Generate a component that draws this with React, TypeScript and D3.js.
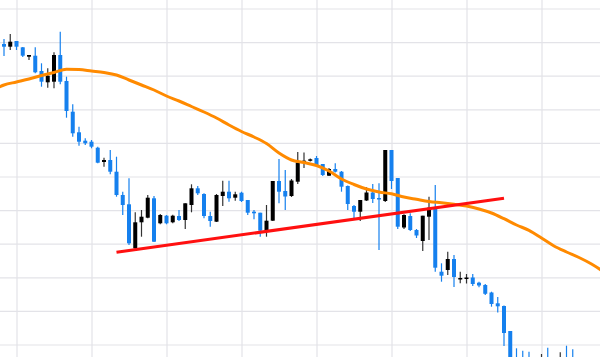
import React from "react";
import * as d3 from "d3";

const W = 600;
const H = 357;

// OHLC series (price units), one entry per trading session
const opens = [
  31.3, 31.03, 31.6, 30.97, 30.03, 30.13, 28.6, 27.47, 27.53, 30.2,
  27.6, 24.53, 22.47, 21.63, 21.53, 20.93, 19.5, 19.7, 18.53, 16.2,
  15.27, 10.87, 13.47, 13.93, 15.87, 13.37, 14.13, 13.47, 14.1, 13.7,
  15.2, 16.87, 16.3, 14.1, 13.53, 16.1, 16.53, 15.93, 16.43, 15.7,
  14.53, 14.43, 12.63, 13.63, 17.6, 16.6, 16.1, 17.53, 19.4, 19.63,
  19.9, 19.3, 18.13, 18.8, 18.53, 17.1, 15.1, 14.53, 15.65, 16.45,
  15.9, 15.6, 20.7, 17.9, 12.95, 14.1, 12.7, 11.6, 14.03, 14.87,
  8.53, 8.7, 9.8, 7.75, 7.8, 7.95, 7.43, 7.2, 6.45, 5.37,
  5.1, 2.6, -0.3, -0.5, -0.7, -1.1, -1.3, -0.3, -0.5, -1.5,
  -0.2, -0.3,
];
const highs = [
  31.8, 32.3, 31.6, 31.0, 30.2, 30.97, 29.37, 28.87, 30.47, 32.53,
  28.03, 25.27, 23.03, 21.87, 21.7, 21.03, 19.93, 20.7, 20.03, 16.53,
  17.87, 14.47, 14.7, 16.2, 16.1, 14.3, 14.2, 14.23, 14.7, 15.37,
  17.27, 17.1, 16.37, 14.53, 16.3, 17.63, 17.63, 16.53, 16.53, 15.7,
  14.7, 14.43, 15.2, 17.6, 19.8, 18.7, 17.8, 20.5, 20.45, 19.85,
  20.1, 19.3, 18.9, 19.37, 18.6, 17.15, 15.2, 15.7, 16.97, 17.3,
  17.37, 20.7, 20.7, 17.9, 14.27, 14.37, 12.8, 14.13, 16.03, 17.2,
  9.37, 10.53, 10.2, 8.53, 8.3, 8.3, 7.53, 7.3, 6.53, 6.0,
  5.15, 2.6, 0.87, 0.63, 0.53, -0.3, 0.3, 0.93, -0.1, 0.47,
  1.13, 0.77,
];
const lows = [
  30.1, 30.7, 30.7, 30.0, 29.7, 28.37, 27.03, 26.93, 26.87, 27.27,
  23.93, 22.03, 21.13, 21.2, 20.87, 19.37, 19.03, 18.27, 16.03, 14.2,
  11.2, 10.8, 12.03, 13.87, 11.5, 13.27, 13.27, 13.37, 13.6, 12.8,
  14.47, 16.2, 13.87, 13.03, 13.5, 15.1, 15.53, 15.63, 15.5, 14.2,
  13.77, 12.03, 12.03, 13.6, 15.37, 14.7, 16.0, 17.3, 18.9, 19.55,
  19.03, 18.1, 18.1, 18.45, 16.53, 14.7, 13.7, 13.6, 15.6, 15.4,
  10.7, 15.5, 16.8, 12.8, 12.8, 12.6, 11.9, 10.6, 11.7, 8.53,
  7.53, 8.2, 7.0, 7.37, 7.35, 7.1, 6.97, 6.2, 5.03, 4.45,
  1.1, -1.5, -2.1, -2.7, -2.5, -3.3, -1.7, -1.9, -2.7, -1.9,
  -1.8, -2.1,
];
const closes = [
  31.03, 31.53, 31.03, 30.13, 30.2, 28.47, 27.53, 28.13, 30.2, 27.53,
  24.6, 22.37, 21.53, 21.37, 21.03, 19.43, 19.7, 18.53, 16.2, 15.2,
  11.37, 13.47, 14.03, 15.93, 11.53, 14.2, 13.37, 14.13, 13.7, 15.37,
  16.87, 16.37, 14.1, 13.6, 16.2, 16.53, 15.87, 16.27, 15.6, 14.43,
  14.37, 12.63, 13.63, 17.6, 16.53, 16.05, 17.65, 19.45, 19.63, 19.77,
  19.2, 18.2, 18.8, 18.53, 17.03, 15.3, 14.53, 15.7, 16.45, 15.8,
  15.75, 20.7, 17.6, 13.03, 14.2, 12.7, 12.15, 14.13, 14.93, 8.93,
  8.13, 9.8, 8.0, 7.9, 7.95, 7.3, 7.15, 6.32, 5.3, 5.07,
  2.4, -1.1, -1.8, -2.3, -2.1, -2.8, -0.1, -1.5, -2.3, -0.3,
  -1.4, -1.8,
];

// Moving average at selected sessions
const maIndex = [
  -1, 0, 2, 4, 6, 8, 10, 12, 14, 16, 18, 20, 22, 24, 26, 28, 30, 32, 34, 36,
  38, 40, 42, 44, 46, 48, 50, 52, 54, 56, 58, 60, 62, 64, 66, 68, 70, 72, 74,
  76, 78, 80, 82, 84, 86, 88, 90, 92, 94, 96,
];
const maValue = [
  26.95, 27.2, 27.5, 27.8, 28.15, 28.45, 28.77, 28.75, 28.6, 28.45, 28.2, 27.7,
  27.2, 26.7, 26.1, 25.6, 25.05, 24.5, 23.9, 23.2, 22.55, 22.0, 21.35, 20.4,
  19.7, 19.45, 19.15, 18.6, 17.8, 17.25, 16.8, 16.5, 16.32, 16.0, 15.77, 15.55,
  15.42, 15.27, 15.1, 14.8, 14.4, 13.83, 13.2, 12.67, 11.9, 11.1, 10.5, 9.95,
  9.3, 8.5,
];

// Trend line anchors (session index, price)
const trendIndex = [18, 80];
const trendValue = [10.47, 15.87];

// Grid positions
const yGridValues = d3.range(1.2, 35.5, 3.36);
const xGridValues = d3.range(2.08, 96, 12);

const BLUE = "#1580ee";
const BLACK = "#000000";

export default function App() {
  const x = d3.scaleLinear().domain([0, 96]).range([4, 604]);
  const y = d3.scaleLinear().domain([0, 35.7]).range([H, 0]);
  const bodyW = 4;

  const maLine = d3
    .line<number>()
    .x((_, i) => x(maIndex[i]))
    .y((d) => y(d))
    .curve(d3.curveMonotoneX);

  const trendLine = d3
    .line<number>()
    .x((_, i) => x(trendIndex[i]))
    .y((d) => y(d));

  return (
    <svg
      width={W}
      height={H}
      style={{ position: "absolute", left: 0, top: 0, background: "#fff" }}
    >
      <defs>
        <clipPath id="plot">
          <rect x={0} y={0} width={W} height={H} />
        </clipPath>
      </defs>
      <g>
        {yGridValues.map((v, i) => (
          <line
            key={"gy" + i}
            x1={0}
            x2={W}
            y1={y(v)}
            y2={y(v)}
            stroke="#e3e3e8"
            strokeWidth={1.2}
          />
        ))}
        {xGridValues.map((v, i) => (
          <line
            key={"gx" + i}
            x1={x(v)}
            x2={x(v)}
            y1={0}
            y2={H}
            stroke="#e3e3e8"
            strokeWidth={1.2}
          />
        ))}
      </g>
      <g clipPath="url(#plot)">
        {opens.map((o, i) => {
          const c = closes[i];
          const up = c >= o;
          const col = up ? BLACK : BLUE;
          const cx = x(i);
          const top = y(Math.max(o, c));
          const bot = y(Math.min(o, c));
          return (
            <g key={"c" + i}>
              <line
                x1={cx}
                x2={cx}
                y1={y(highs[i])}
                y2={y(lows[i])}
                stroke={up ? "#333" : BLUE}
                strokeWidth={1.2}
              />
              <rect
                x={cx - bodyW / 2}
                y={top}
                width={bodyW}
                height={Math.max(1.5, bot - top)}
                fill={col}
              />
            </g>
          );
        })}
        <path
          d={maLine(maValue) || ""}
          fill="none"
          stroke="#ff8a00"
          strokeWidth={3}
        />
        <path
          d={trendLine(trendValue) || ""}
          fill="none"
          stroke="#ff1010"
          strokeWidth={3}
        />
      </g>
    </svg>
  );
}
